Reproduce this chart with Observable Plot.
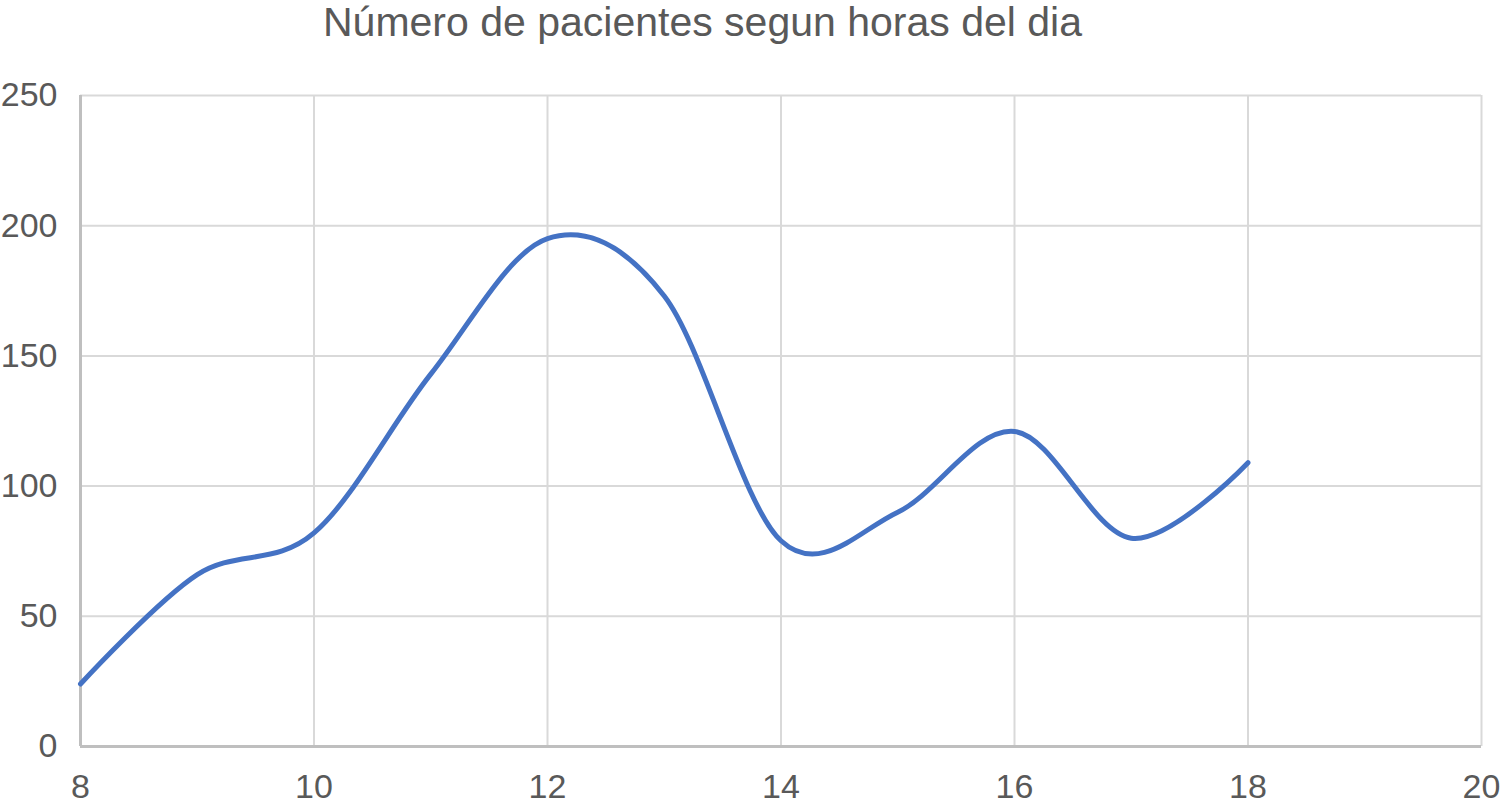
<!DOCTYPE html>
<html>
<head>
<meta charset="utf-8">
<script src="https://cdn.jsdelivr.net/npm/d3@7"></script>
<script src="https://cdn.jsdelivr.net/npm/@observablehq/plot@0.6"></script>
<style>
  html, body { margin: 0; padding: 0; background: #fff; }
  #title {
    width: 1505px; height: 55px; box-sizing: border-box;
    text-align: center; padding-right: 100px; padding-top: 2px;
    font-family: "Liberation Sans", Arial, Helvetica, sans-serif;
    font-size: 41px; line-height: 40px; color: #595959;
  }
  #chart svg { display: block; overflow: visible; }
</style>
</head>
<body>
<div id="title">Número de pacientes segun horas del dia</div>
<div id="chart"></div>
<script>
const title = "Número de pacientes segun horas del dia";
const hours = [8, 9, 10, 11, 12, 13, 14, 15, 16, 17, 18];
const patients = [24, 66, 82, 143, 195, 173, 79, 90, 121, 80, 109];
const xTicks = [8, 10, 12, 14, 16, 18, 20];
const yTicks = [0, 50, 100, 150, 200, 250];

document.getElementById("title").textContent = title;
const data = hours.map((h, i) => ({hour: h, n: patients[i]}));

const chart = Plot.plot({
  width: 1505,
  height: 752,
  marginTop: 40,
  marginBottom: 61,
  marginLeft: 80,
  marginRight: 24,
  style: {
    fontFamily: "'Liberation Sans', Arial, Helvetica, sans-serif",
    fontSize: "34px",
    color: "#595959",
    background: "#fff",
    overflow: "visible"
  },
  x: {domain: [8, 20], ticks: xTicks, tickSize: 0, tickPadding: 27, label: null},
  y: {domain: [0, 250], ticks: yTicks, tickSize: 0, tickPadding: 23, label: null},
  marks: [
    Plot.gridX(xTicks, {stroke: "#d9d9d9", strokeOpacity: 1, strokeWidth: 2}),
    Plot.gridY(yTicks, {stroke: "#d9d9d9", strokeOpacity: 1, strokeWidth: 2}),
    Plot.ruleX([8], {stroke: "#bfbfbf", strokeWidth: 3}),
    Plot.ruleY([0], {stroke: "#bfbfbf", strokeWidth: 3}),
    Plot.line(data, {x: "hour", y: "n", stroke: "#4472c4", strokeWidth: 5, curve: "cardinal"})
  ]
});
document.getElementById("chart").appendChild(chart);
</script>
</body>
</html>
